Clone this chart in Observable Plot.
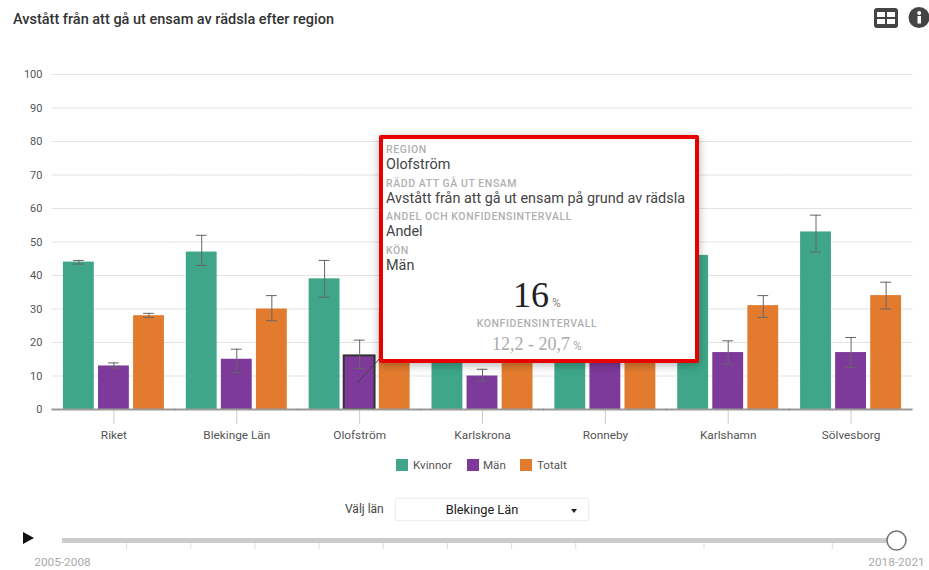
<!DOCTYPE html>
<html lang="sv">
<head>
<meta charset="utf-8">
<script src="https://cdn.jsdelivr.net/npm/d3@7"></script>
<script src="https://cdn.jsdelivr.net/npm/@observablehq/plot@0.6"></script>
<style>
html,body{margin:0;padding:0;background:#fff;font-family:Roboto,sans-serif;}
#page{position:relative;width:929px;height:570px;overflow:hidden;}
#page>*{position:absolute;}
#title{left:13px;top:12px;font-size:14.5px;font-weight:500;color:#333;line-height:16px;white-space:nowrap;}
#chart{left:0;top:0;}
#slider{left:0;top:525px;}
.lg{top:459px;font-size:11.6px;color:#555;line-height:13px;}
.sw{top:459px;width:12px;height:12px;}
#lab{left:345px;top:502px;font-size:12px;color:#444;}
#sel{left:395px;top:498px;width:192px;height:21px;border:1px solid #eee;border-radius:2px;font-size:12.8px;color:#222;line-height:21px;box-shadow:0 0 2px #eee;}
#sel span{position:absolute;left:0;width:172px;text-align:center;}
#sel i{position:absolute;left:175px;top:10px;border:3.5px solid transparent;border-top:4px solid #222;border-bottom:0;}
#play{left:23px;top:532px;border-left:11px solid #111;border-top:6.5px solid transparent;border-bottom:6.5px solid transparent;}
#tip{left:379px;top:135px;width:312px;height:220px;border:4px solid #e60000;border-radius:2px;background:#fff;box-shadow:0 2px 10px rgba(0,0,0,.3);}
#tip div{position:absolute;white-space:nowrap;}
.k{left:3px;font-size:10.5px;letter-spacing:.57px;font-weight:500;color:#b0b0b0;line-height:10px;}
.v{left:3px;font-size:14.4px;color:#444;line-height:14px;}
.c{left:0;width:308px;text-align:center;}
</style>
</head>
<body>
<div id="page">
  <div id="chart"></div>
  <div id="slider"></div>
  <div id="title">Avstått från att gå ut ensam av rädsla efter region</div>
  <svg style="left:874px;top:8px" width="24" height="20"><rect width="24" height="20" rx="3" fill="#444"/><rect x="3" y="4" width="8" height="5" fill="#fff"/><rect x="13" y="4" width="8" height="5" fill="#fff"/><rect x="3" y="11" width="8" height="5" fill="#fff"/><rect x="13" y="11" width="8" height="5" fill="#fff"/></svg>
  <svg style="left:908px;top:7px" width="21" height="21"><circle cx="11" cy="10.5" r="10.5" fill="#444"/><rect x="9.5" y="9" width="3.5" height="7.5" fill="#fff"/><circle cx="11.2" cy="6" r="2" fill="#fff"/></svg>
  <div class="sw" style="left:396px;background:#3fa68a"></div><div class="lg" style="left:413px">Kvinnor</div>
  <div class="sw" style="left:467px;background:#7d3a9a"></div><div class="lg" style="left:483px">Män</div>
  <div class="sw" style="left:520px;background:#e37b2f"></div><div class="lg" style="left:537px">Totalt</div>
  <div id="lab">Välj län</div>
  <div id="sel"><span>Blekinge Län</span><i></i></div>
  <div id="play"></div>
  <div id="tip">
    <div class="k" style="top:6px">REGION</div><div class="v" style="top:19px">Olofström</div>
    <div class="k" style="top:40px">RÄDD ATT GÅ UT ENSAM</div><div class="v" style="top:53px">Avstått från att gå ut ensam på grund av rädsla</div>
    <div class="k" style="top:73px">ANDEL OCH KONFIDENSINTERVALL</div><div class="v" style="top:86px">Andel</div>
    <div class="k" style="top:107px">KÖN</div><div class="v" style="top:120px">Män</div>
    <div class="c" style="top:136px;font-family:'Liberation Serif',serif;font-size:36px;color:#222;line-height:40px">16<span style="font-size:12px;color:#888;font-family:Roboto"> %</span></div>
    <div class="c k" style="left:0;top:180px">KONFIDENSINTERVALL</div>
    <div class="c" style="top:195px;font-family:'Liberation Serif',serif;font-size:18px;color:#aaa;line-height:20px">12,2 - 20,7<span style="font-size:12px;font-family:Roboto"> %</span></div>
  </div>
</div>
<script>
const regions = ["Riket","Blekinge Län","Olofström","Karlskrona","Ronneby","Karlshamn","Sölvesborg"];
const genders = ["Kvinnor","Män","Totalt"];
const colors = ["#3fa68a","#7d3a9a","#e37b2f"];
const kvinnor = [44,47,39,46,40,46,53];
const man = [13,15,16,10,20,17,17];
const totalt = [28,30,29,28,30,31,34];
const kvinnorLow = [43.4,43,33.5,42,35,41,47];
const kvinnorHigh = [44.5,52,44.5,50,45,51,58];
const manLow = [12.4,11,12.2,8.5,16,13.5,12.5];
const manHigh = [13.9,18,20.7,12,24,20.5,21.5];
const totaltLow = [27.5,26.5,25,25,27,27.5,30];
const totaltHigh = [28.7,34,33,31,33,34,38];
const yTicks = [0,10,20,30,40,50,60,70,80,90,100];
const sliderStart = 2005, sliderEnd = 2018;
const sliderTicks = [2006,2007,2008,2009,2010,2011,2012,2013,2015,2017];
const sliderLabels = ["2005-2008","2018-2021"];

const rows = [[kvinnor,kvinnorLow,kvinnorHigh],[man,manLow,manHigh],[totalt,totaltLow,totaltHigh]]
  .flatMap(([v,lo,hi],g)=>regions.map((r,i)=>({region:r,gender:genders[g],value:v[i],low:lo[i],high:hi[i]})));
const selected = rows.filter(d=>d.region==="Olofström"&&d.gender==="Män");
const leader = [{region:"Olofström",a:"Män",b:"Totalt",y1:8,y2:19.5}];
const across = {insetLeft:-11.5,insetRight:-11.5};

document.getElementById("chart").append(Plot.plot({
  width:929,height:450,marginLeft:52,marginRight:17,marginTop:74,marginBottom:41,
  style:{fontFamily:"Roboto,sans-serif",fontSize:"11.8px",background:"transparent"},
  x:{domain:genders,axis:null,paddingInner:0.12,paddingOuter:0,round:false},
  y:{domain:[0,100],axis:null},
  fx:{domain:regions,paddingInner:0.178,paddingOuter:0.089,axis:null,round:false},
  color:{domain:genders,range:colors},
  marks:[
    Plot.ruleY(yTicks.filter(d=>d>0),{stroke:"#e4e4e4",strokeWidth:1.2,...across}),
    Plot.axisY({ticks:yTicks,tickSize:0,tickPadding:21,label:null,color:"#555",fontSize:11}),
    Plot.axisFx({domain:regions,anchor:"bottom",tickSize:15,tickPadding:6,label:null,stroke:"#ccc",fill:"#555",fontSize:11.8}),
    Plot.barY(rows,{fx:"region",x:"gender",y:"value",fill:"gender"}),
    Plot.barY(selected,{fx:"region",x:"gender",y:"value",fill:"gender",stroke:"#333",strokeWidth:2}),
    Plot.ruleX(rows,{fx:"region",x:"gender",y1:"low",y2:"high",stroke:"#666",strokeWidth:1}),
    Plot.tickY(rows,{fx:"region",x:"gender",y:"low",stroke:"#666",strokeWidth:1,insetLeft:10,insetRight:10}),
    Plot.tickY(rows,{fx:"region",x:"gender",y:"high",stroke:"#666",strokeWidth:1,insetLeft:10,insetRight:10}),
    Plot.link(leader,{fx:"region",x1:"a",x2:"b",y1:"y1",y2:"y2",stroke:"#444",strokeWidth:1,dx:-2}),
    Plot.ruleY([0],{stroke:"#999",strokeWidth:2,...across})
  ]
}));

document.getElementById("slider").append(Plot.plot({
  width:929,height:45,marginLeft:62,marginRight:33,marginTop:15,marginBottom:21,
  style:{fontFamily:"Roboto,sans-serif",fontSize:"11.8px",background:"transparent"},
  x:{domain:[sliderStart,sliderEnd],axis:null,round:false},
  y:{domain:[0,1],axis:null},
  marks:[
    Plot.ruleX(sliderTicks,{y1:0,y2:1,stroke:"#ddd",strokeWidth:1}),
    Plot.ruleY([1],{x1:sliderStart,x2:sliderEnd,stroke:"#ccc",strokeWidth:5}),
    Plot.dot([sliderEnd],{x:d=>d,y:1,r:9.5,fill:"#fff",stroke:"#777",strokeWidth:1.6}),
    Plot.text([sliderStart,sliderEnd],{x:d=>d,y:0,dy:13,text:(d,i)=>sliderLabels[i],fill:"#aaa",fontSize:11.8})
  ]
}));
</script>
</body>
</html>
